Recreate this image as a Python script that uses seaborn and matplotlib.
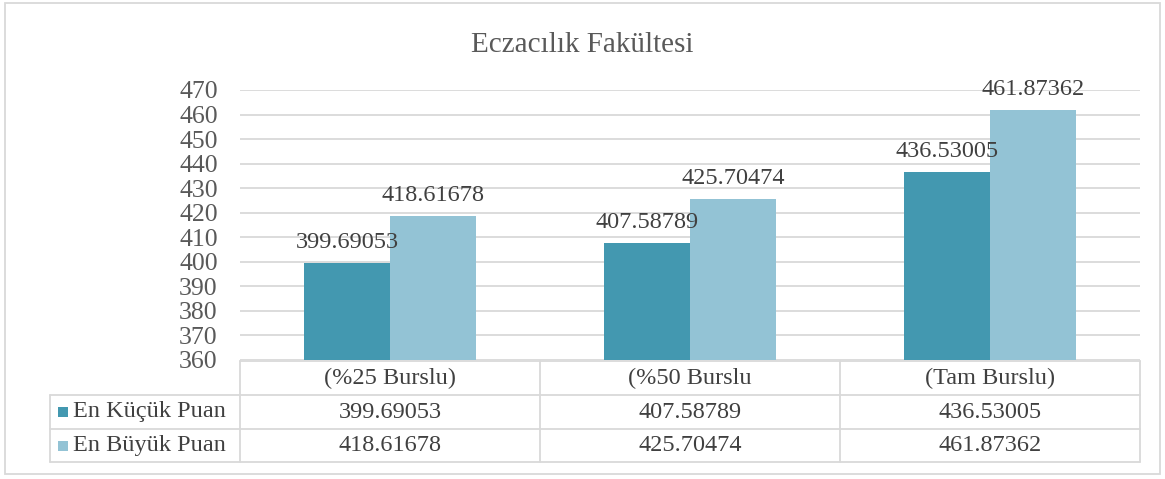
import matplotlib
matplotlib.use("Agg")
import matplotlib.pyplot as plt
from matplotlib.lines import Line2D
from matplotlib.patches import Rectangle
import seaborn as sns
import pandas as pd

categories = ["(%25 Burslu)", "(%50 Burslu", "(Tam Burslu)"]
series_names = ["En Küçük Puan", "En Büyük Puan"]
min_scores = [399.69053, 407.58789, 436.53005]
max_scores = [418.61678, 425.70474, 461.87362]
min_labels = ["399.69053", "407.58789", "436.53005"]
max_labels = ["418.61678", "425.70474", "461.87362"]
y_ticks = list(range(360, 471, 10))
title = "Eczacılık Fakültesi"

colors = ["#4398B0", "#93C3D5"]
GRID = "#d9d9d9"
TXT = "#595959"
LBL = "#404040"

df = pd.DataFrame({
    "cat": categories * 2,
    "series": [series_names[0]] * 3 + [series_names[1]] * 3,
    "val": min_scores + max_scores,
})

sns.set_theme(style="white")
plt.rcParams["font.family"] = ["Liberation Serif", "DejaVu Serif"]

W, H = 1165, 479
fig = plt.figure(figsize=(W / 100, H / 100), dpi=100)

def fx(x):
    return x / W

def fy(y):
    return 1 - y / H

L, R, T, B = 240, 1140, 90, 360
ax = fig.add_axes([fx(L), fy(B), fx(R) - fx(L), fy(T) - fy(B)])
sns.barplot(data=df, x="cat", y="val", hue="series", palette=colors,
            width=0.573, linewidth=0, ax=ax, legend=False, saturation=1)
ax.set_ylim(360, 470)
ax.set_xlim(-0.5, 2.5)
ax.set_yticks(y_ticks)
ax.set_yticklabels([str(t) for t in y_ticks], fontsize=18.5, color=TXT)
ax.tick_params(axis="y", length=0, pad=16)
ax.set_xticks([])
ax.set_xlabel("")
ax.set_ylabel("")
for s in ax.spines.values():
    s.set_visible(False)
ax.yaxis.grid(True, color=GRID, linewidth=1.3)
ax.set_axisbelow(True)

labels_all = [min_labels, max_labels]
for ci, cont in enumerate(ax.containers):
    for bar, lab in zip(cont, labels_all[ci]):
        ax.annotate(lab, (bar.get_x() + bar.get_width() / 2, bar.get_height()),
                    xytext=(0, 7), textcoords="offset points", ha="center", va="bottom",
                    fontsize=17.5, color=LBL, annotation_clip=False)

fig.text(0.5, fy(45), title, ha="center", va="center", fontsize=21, color=TXT)

def hline(x0, x1, y):
    fig.add_artist(Line2D([fx(x0), fx(x1)], [fy(y), fy(y)], color=GRID, lw=1.3))

def vline(x, y0, y1):
    fig.add_artist(Line2D([fx(x), fx(x)], [fy(y0), fy(y1)], color=GRID, lw=1.3))

# table
r0, r1, r2, r3 = 361, 395, 429, 462
hline(L, R, r0)
hline(50, R, r1)
hline(50, R, r2)
hline(50, R, r3)
for x in [L, 540, 840, R]:
    vline(x, r0, r3)
vline(50, r1, r3)

col_centers = [390, 690, 990]
for c, cat in zip(col_centers, categories):
    fig.text(fx(c), fy((r0 + r1) / 2), cat, ha="center", va="center", fontsize=17.5, color=LBL)
for c, v in zip(col_centers, min_labels):
    fig.text(fx(c), fy((r1 + r2) / 2), v, ha="center", va="center", fontsize=17.5, color=LBL)
for c, v in zip(col_centers, max_labels):
    fig.text(fx(c), fy((r2 + r3) / 2), v, ha="center", va="center", fontsize=17.5, color=LBL)

for i, (name, col) in enumerate(zip(series_names, colors)):
    yc = (r1 + r2) / 2 if i == 0 else (r2 + r3) / 2
    fig.add_artist(Rectangle((fx(58), fy(yc + 5)), fx(10), fy(0) - fy(10),
                             facecolor=col, edgecolor="none", transform=fig.transFigure))
    fig.text(fx(73), fy(yc), name, ha="left", va="center", fontsize=17.5, color=LBL)

# outer border
fig.add_artist(Rectangle((fx(5), fy(474)), fx(1155), fy(3) - fy(474), fill=False,
                         edgecolor=GRID, lw=1.3, transform=fig.transFigure))

fig.savefig("out.png", dpi=100)
